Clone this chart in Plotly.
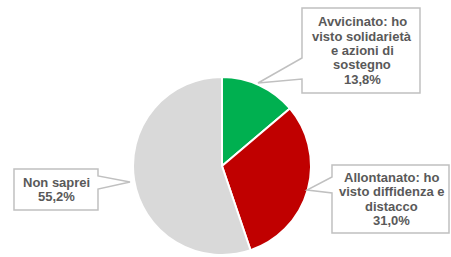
import plotly.graph_objects as go

labels = ["Avvicinato: ho visto solidarietà e azioni di sostegno",
          "Allontanato: ho visto diffidenza e distacco",
          "Non saprei"]
values = [13.8, 31.0, 55.2]
colors = ["#00B050", "#C00000", "#D9D9D9"]
label_lines = [
    ["Avvicinato: ho", "visto solidarietà", "e azioni di", "sostegno", "13,8%"],
    ["Allontanato: ho", "visto diffidenza e", "distacco", "31,0%"],
    ["Non saprei", "55,2%"],
]

W, H = 451, 257

fig = go.Figure(go.Pie(
    labels=labels, values=values, sort=False, direction="clockwise", rotation=0,
    marker=dict(colors=colors, line=dict(color="white", width=2)),
    textinfo="none", hoverinfo="label+percent",
    domain=dict(x=[(222 - 89) / W, (222 + 89) / W], y=[2 / H, 180 / H]),
))

def px(x, y):
    return x / W, 1 - y / H

def path(points):
    s = ""
    for i, (x, y) in enumerate(points):
        fx, fy = px(x, y)
        s += ("M" if i == 0 else "L") + f"{fx:.5f},{fy:.5f} "
    return s + "Z"

callouts = [
    dict(box=(302, 8, 420, 93), side="left", j1=58, tip=(258, 83), j2=79),
    dict(box=(332, 165, 449, 233), side="left", j1=177, tip=(307, 190), j2=193),
    dict(box=(14, 169, 98, 210), side="right", j1=176, tip=(130, 182), j2=189),
]

LINE = 14.3
shapes = []
annotations = []
for c, lines in zip(callouts, label_lines):
    l, t, r, b = c["box"]
    if c["side"] == "left":
        pts = [(l, t), (r, t), (r, b), (l, b), (l, c["j2"]), c["tip"], (l, c["j1"])]
    else:
        pts = [(l, t), (r, t), (r, c["j1"]), c["tip"], (r, c["j2"]), (r, b), (l, b)]
    shapes.append(dict(type="path", xref="paper", yref="paper", path=path(pts),
                       fillcolor="white", line=dict(color="#C0C0C0", width=1.5), layer="above"))
    cxp = (l + r) / 2 + 1
    cyp = (t + b) / 2
    n = len(lines)
    for i, ln in enumerate(lines):
        y = cyp + (i - (n - 1) / 2) * LINE
        fx, fy = px(cxp, y)
        annotations.append(dict(xref="paper", yref="paper", x=fx, y=fy, text=f"<b>{ln}</b>",
                                showarrow=False, xanchor="center", yanchor="middle",
                                font=dict(family="Arial, Liberation Sans", size=13, color="#595959")))

fig.update_layout(
    width=W, height=H, margin=dict(l=0, r=0, t=0, b=0),
    paper_bgcolor="white", plot_bgcolor="white", showlegend=False,
    shapes=shapes, annotations=annotations,
)

fig.write_html("out.html", config={"displayModeBar": False},
               post_script="document.body.style.margin='0px';document.body.style.overflow='hidden';")
